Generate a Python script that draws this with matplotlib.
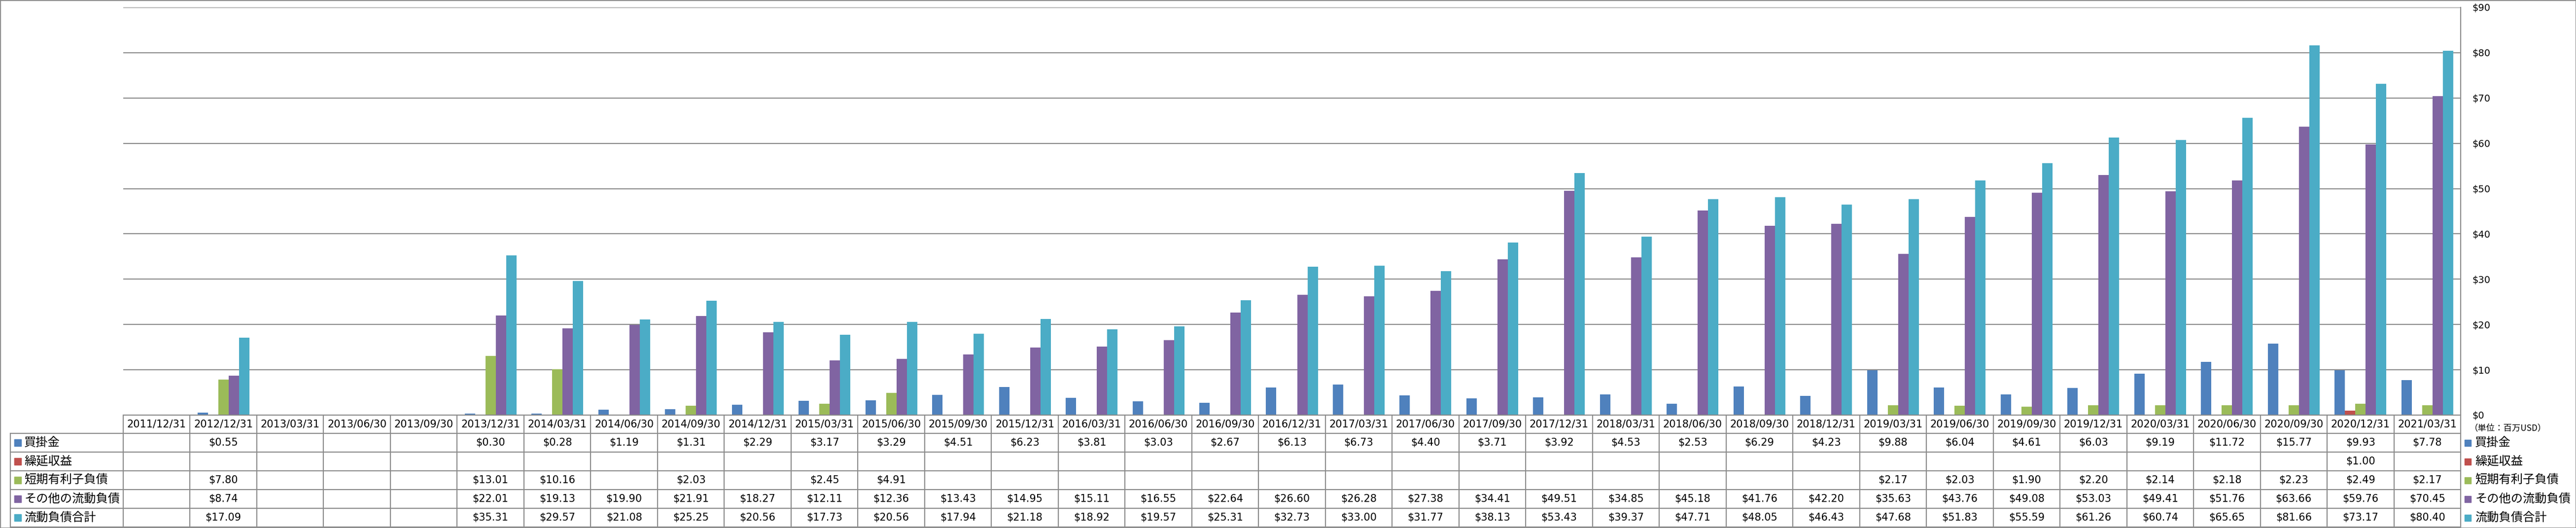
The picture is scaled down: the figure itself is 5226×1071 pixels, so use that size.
import numpy as np
import matplotlib

matplotlib.use("Agg")
import matplotlib.pyplot as plt
from matplotlib.patches import Rectangle
from matplotlib.lines import Line2D
from matplotlib import transforms

dates = [
    "2011/12/31", "2012/12/31", "2013/03/31", "2013/06/30", "2013/09/30",
    "2013/12/31", "2014/03/31", "2014/06/30", "2014/09/30", "2014/12/31",
    "2015/03/31", "2015/06/30", "2015/09/30", "2015/12/31", "2016/03/31",
    "2016/06/30", "2016/09/30", "2016/12/31", "2017/03/31", "2017/06/30",
    "2017/09/30", "2017/12/31", "2018/03/31", "2018/06/30", "2018/09/30",
    "2018/12/31", "2019/03/31", "2019/06/30", "2019/09/30", "2019/12/31",
    "2020/03/31", "2020/06/30", "2020/09/30", "2020/12/31", "2021/03/31",
]

accounts_payable = [
    None, 0.55, None, None, None, 0.30, 0.28, 1.19, 1.31, 2.29,
    3.17, 3.29, 4.51, 6.23, 3.81, 3.03, 2.67, 6.13, 6.73, 4.40,
    3.71, 3.92, 4.53, 2.53, 6.29, 4.23, 9.88, 6.04, 4.61, 6.03,
    9.19, 11.72, 15.77, 9.93, 7.78,
]
deferred_revenue = [None] * 33 + [1.00, None]
short_term_debt = [
    None, 7.80, None, None, None, 13.01, 10.16, None, 2.03, None,
    2.45, 4.91, None, None, None, None, None, None, None, None,
    None, None, None, None, None, None, 2.17, 2.03, 1.90, 2.20,
    2.14, 2.18, 2.23, 2.49, 2.17,
]
other_current = [
    None, 8.74, None, None, None, 22.01, 19.13, 19.90, 21.91, 18.27,
    12.11, 12.36, 13.43, 14.95, 15.11, 16.55, 22.64, 26.60, 26.28, 27.38,
    34.41, 49.51, 34.85, 45.18, 41.76, 42.20, 35.63, 43.76, 49.08, 53.03,
    49.41, 51.76, 63.66, 59.76, 70.45,
]
total_current = [
    None, 17.09, None, None, None, 35.31, 29.57, 21.08, 25.25, 20.56,
    17.73, 20.56, 17.94, 21.18, 18.92, 19.57, 25.31, 32.73, 33.00, 31.77,
    38.13, 53.43, 39.37, 47.71, 48.05, 46.43, 47.68, 51.83, 55.59, 61.26,
    60.74, 65.65, 81.66, 73.17, 80.40,
]

series_names = ["買掛金", "繰延収益", "短期有利子負債", "その他の流動負債", "流動負債合計"]
series_values = [accounts_payable, deferred_revenue, short_term_debt, other_current, total_current]
colors = ["#4F81BD", "#C0504D", "#9BBB59", "#8064A2", "#4BACC6"]

W, H = 5226, 1071
GRID = "#898989"
CJK = ["Noto Sans CJK JP", "DejaVu Sans"]

fig = plt.figure(figsize=(W / 100, H / 100), dpi=100)


def fy(py):
    return 1 - py / H


def fx(px):
    return px / W


plot_left, plot_right = 250, 4992
plot_top, plot_bottom = 15, 842
ax = fig.add_axes([fx(plot_left), fy(plot_bottom), fx(plot_right) - fx(plot_left), fy(plot_top) - fy(plot_bottom)])

n = len(dates)
x = np.arange(n)
bar_w = 0.155
for k, (vals, color) in enumerate(zip(series_values, colors)):
    heights = np.array([np.nan if v is None else v for v in vals], dtype=float)
    mask = ~np.isnan(heights)
    ax.bar(x[mask] + (k - 2) * bar_w, heights[mask], width=bar_w, color=color, zorder=3)

ax.set_xlim(-0.5, n - 0.5)
ax.set_ylim(0, 90)
ax.set_yticks(np.arange(0, 91, 10))
ax.set_yticklabels([f"${v}" for v in range(0, 91, 10)])
ax.yaxis.tick_right()
ax.tick_params(axis="y", length=0, pad=17, labelsize=14)
ax.set_xticks([])
ax.yaxis.grid(True, color=GRID, lw=1.5, zorder=0)
for side in ["left", "top", "bottom"]:
    ax.spines[side].set_visible(False)
ax.spines["right"].set_color(GRID)
ax.spines["right"].set_linewidth(1.5)

# data table below the plot
trans = transforms.blended_transform_factory(ax.transData, fig.transFigure)
header_top, header_bottom = 842, 879
row_h = 38
table_left = 21
rows_y = [header_bottom + i * row_h for i in range(len(series_names) + 1)]

fig.add_artist(Line2D([fx(plot_left), fx(plot_right)], [fy(header_top)] * 2, color=GRID, lw=1.5))
for ry in rows_y:
    fig.add_artist(Line2D([fx(table_left), fx(plot_right)], [fy(ry)] * 2, color=GRID, lw=1.5))
for i in range(n + 1):
    fig.add_artist(Line2D([i - 0.5, i - 0.5], [fy(header_top), fy(rows_y[-1])],
                          transform=trans, color=GRID, lw=1.5))
fig.add_artist(Line2D([fx(table_left)] * 2, [fy(header_bottom), fy(rows_y[-1])], color=GRID, lw=1.5))

for i, d in enumerate(dates):
    fig.text(i, fy((header_top + header_bottom) / 2), d, transform=trans,
             ha="center", va="center", fontsize=15)

for r, (name, vals, color) in enumerate(zip(series_names, series_values, colors)):
    cy = rows_y[r] + row_h / 2
    fig.add_artist(Rectangle((fx(29), fy(cy + 7)), fx(14), 14 / H, color=color,
                             transform=fig.transFigure))
    fig.text(fx(49), fy(cy), name, ha="left", va="center", fontsize=17.5, family=CJK)
    for i, v in enumerate(vals):
        if v is not None:
            fig.text(i, fy(cy), f"${v:.2f}", transform=trans, ha="center", va="center", fontsize=15)
    # legend on the right
    fig.add_artist(Rectangle((fx(5000), fy(cy + 7)), fx(13), 13 / H, color=color,
                             transform=fig.transFigure))
    fig.text(fx(5021), fy(cy), name, ha="left", va="center", fontsize=17.5, family=CJK)

fig.text(fx(5010), fy(868), "（単位：百万USD）", ha="left", va="center", fontsize=12.5, family=CJK)

fig.add_artist(Rectangle((0, 0), 1, 1, fill=False, edgecolor=GRID, lw=2, transform=fig.transFigure))

fig.savefig("out.png", dpi=100)
